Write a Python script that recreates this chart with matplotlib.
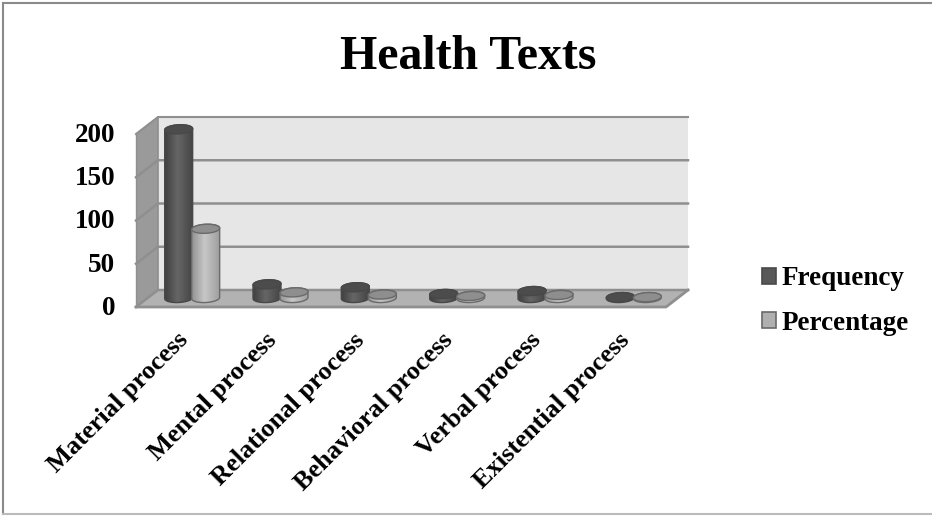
#!/usr/bin/python3

import matplotlib
matplotlib.use('Agg')
import matplotlib.pyplot as plt
from matplotlib.lines import Line2D
from matplotlib.patches import Polygon, Patch
from matplotlib.transforms import ScaledTranslation
import numpy as np

categories = ['Material process', 'Mental process', 'Relational process',
              'Behavioral process', 'Verbal process', 'Existential process']
frequency = [195, 15.8, 12.4, 4.6, 8, 1]
percentage = [80, 6.5, 4, 2.3, 3.5, 1]
y_ticks = [0, 50, 100, 150, 200]
title = 'Health Texts'

W, H = 932, 516
plt.rcParams['font.family'] = ['Liberation Serif', 'DejaVu Serif']
plt.rcParams['font.weight'] = 'bold'

px_x = len(categories) / 530
px_y = 200 / 173
y_top = 230  # room above 200 so the tallest bar's image is not cropped

fig = plt.figure(figsize=(W / 100, H / 100), dpi=100)
# axes is the front plane of the 3d box
ax = fig.add_axes([136 / W, 1 - 307 / H, 530 / W, (y_top / px_y) / H])
ax.set_facecolor('none')

# depth of the box, in data units
dx, dy = 22 * px_x, 17 * px_y
n = len(categories)
wall = '#8f8f8f'

ax.add_patch(Polygon([(dx, dy), (n + dx, dy), (n + dx, 200 + dy), (dx, 200 + dy)],
                     fc='#e6e6e6', ec='none', clip_on=False, zorder=1))
ax.add_patch(Polygon([(0, 0), (dx, dy), (dx, 200 + dy), (0, 200)],
                     fc='#9a9a9a', ec='none', clip_on=False, zorder=1))
ax.add_patch(Polygon([(0, 0), (n, 0), (n + dx, dy), (dx, dy)],
                     fc='#b2b2b2', ec='none', clip_on=False, zorder=1))
# wall edges and grid
ax.plot([0, dx, n + dx], [200, 200 + dy, 200 + dy], color=wall, lw=1.5, clip_on=False, zorder=2)
ax.plot([dx, dx], [dy, 200 + dy], color=wall, lw=1.2, clip_on=False, zorder=2)
ax.plot([0, 0], [0, 200], color=wall, lw=1.0, clip_on=False, zorder=2)
ax.plot([0, n, n + dx], [0, 0, dy], color=wall, lw=2, clip_on=False, zorder=2)
for v in y_ticks[:-1]:
    ax.plot([0, dx, n + dx], [v, v + dy, v + dy], color=wall, lw=1.8,
            clip_on=False, zorder=2)


def ring(xc, yc, a, b, tilt, t):
    # tilted ellipse, worked out in pixels then put back in data units
    ex = a * np.cos(t) * np.cos(tilt) - b * np.sin(t) * np.sin(tilt)
    ey = a * np.cos(t) * np.sin(tilt) + b * np.sin(t) * np.cos(tilt)
    return np.column_stack([xc + ex * px_x, yc + ey * px_y])


def cylinder(xc, value, stops, top_fc, edge):
    a, b = 14, 4.5
    tilt = np.radians(3)
    y0 = 9 * px_y
    y1 = y0 + value
    lower = ring(xc, y0, a, b, tilt, np.linspace(np.pi, 2 * np.pi, 40))
    upper = ring(xc, y1, a, b, tilt, np.linspace(0, np.pi, 40))
    outline = np.vstack([lower, upper])
    grad = np.interp(np.linspace(0, 1, 64), [0, 0.45, 1], stops).reshape(1, -1)
    im = ax.imshow(grad, extent=[xc - a * px_x, xc + a * px_x, y0 - 2 * b * px_y, y1 + 2 * b * px_y],
                   aspect='auto', cmap='gray', vmin=0, vmax=1, zorder=3)
    body = Polygon(outline, closed=True, fc='none', ec=edge, lw=1.0, clip_on=False, zorder=3)
    ax.add_patch(body)
    im.set_clip_path(body)
    top = ring(xc, y1, a, b, tilt, np.linspace(0, 2 * np.pi, 80))
    ax.add_patch(Polygon(top, closed=True, fc=top_fc, ec=edge, lw=1.0, clip_on=False, zorder=4))


for i in range(n):
    xc = i + 0.5 + 12 * px_x
    cylinder(xc - 13.5 * px_x, frequency[i], [0.25, 0.40, 0.27], '#4c4c4c', '#484848')
    cylinder(xc + 13.5 * px_x, percentage[i], [0.58, 0.78, 0.62], '#8e8e8e', '#6a6a6a')

ax.set_xlim(0, n)
ax.set_ylim(0, y_top)
for s in ax.spines.values():
    s.set_visible(False)
ax.set_yticks(y_ticks)
ax.set_yticklabels([str(v) for v in y_ticks], fontsize=19.5, fontweight='bold')
ax.set_xticks(np.arange(n) + 0.5)
ax.set_xticklabels(categories, fontsize=19, fontweight='bold', rotation=45,
                   ha='right', va='top', rotation_mode='anchor')
ax.tick_params(axis='both', length=0)
ax.tick_params(axis='y', pad=15)
ax.tick_params(axis='x', pad=14)
# labels sit a little off their gridline and tick in the original
shift = ScaledTranslation(0, 1.5 / 100, fig.dpi_scale_trans)
for lab in ax.get_yticklabels():
    lab.set_transform(lab.get_transform() + shift)
shift_x = ScaledTranslation(-4 / 100, -2 / 100, fig.dpi_scale_trans)
for lab in ax.get_xticklabels():
    lab.set_transform(lab.get_transform() + shift_x)

handles = [Patch(fc='#585858', ec='#4a4a4a', lw=1.2, label='Frequency'),
           Patch(fc='#b0b0b0', ec='#6a6a6a', lw=1.2, label='Percentage')]
fig.legend(handles=handles, loc='center left', bbox_to_anchor=(762 / W, 1 - 301 / H),
           frameon=False, fontsize=19.5, handlelength=0.52, handleheight=0.52,
           handletextpad=0.22, labelspacing=0.71, borderpad=0, borderaxespad=0)

fig.text(468.5 / W, 1 - 57 / H, title, fontsize=34.5, fontweight='bold', ha='center', va='center')

# frame: left, top and bottom only
fig.add_artist(Line2D([2.5 / W, 2.5 / W], [1 - 2.5 / H, 1 - 514 / H], color='#8a8a8a', lw=1.5))
fig.add_artist(Line2D([2.5 / W, 1], [1 - 2.5 / H, 1 - 2.5 / H], color='#8a8a8a', lw=1.5))
fig.add_artist(Line2D([2.5 / W, 1], [1 - 514 / H, 1 - 514 / H], color='#bbbbbb', lw=1.5))

fig.savefig('out.png', dpi=100)
